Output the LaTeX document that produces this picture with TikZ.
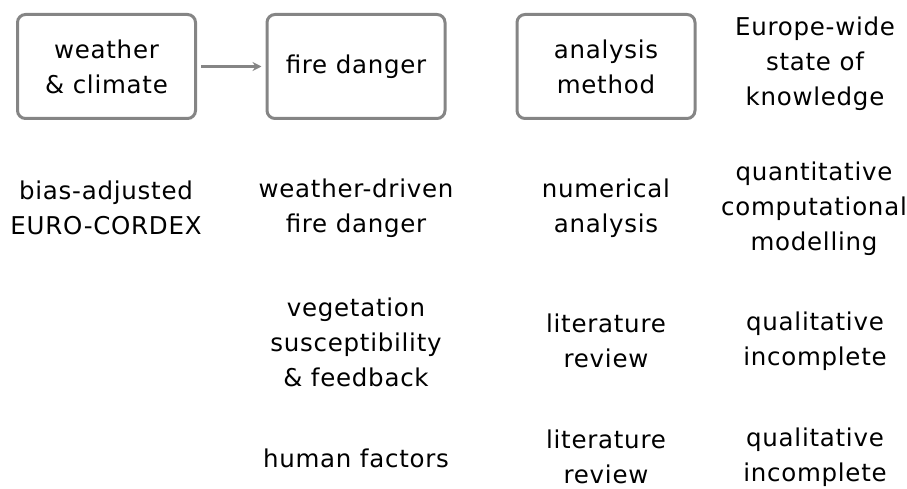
\documentclass[tikz,border=0pt]{standalone}
\usepackage{fontspec}
\setmainfont{DejaVu Sans}[LetterSpace=3]
\usetikzlibrary{arrows.meta}
\definecolor{boxgray}{HTML}{858585}

\begin{document}
\begin{tikzpicture}[x=1pt, y=-1pt,
    every node/.style={align=center, inner sep=0pt,
        font=\fontsize{24.5}{35}\selectfont},
    headbox/.style={draw=boxgray, line width=3pt, rounded corners=8pt,
        minimum width=178pt, minimum height=104pt}]

    \useasboundingbox (0,0) rectangle (907,489);

    % Header boxes
    \node[headbox] (weather) at (106.5, 66.5) {weather\\\& climate};
    \node[headbox] (danger) at (356, 66.5) {fire danger};
    \node[headbox] (method) at (606, 66.5) {analysis\\method};
    \node (knowledge) at (815, 64) {Europe-wide\\state of\\knowledge};

    % Row: weather-driven
    \node (cordex) at (106, 208) {bias-adjusted\\EURO-CORDEX};
    \node (weatherdriven) at (356, 208) {weather-driven\\fire danger};
    \node (numerical) at (606, 208) {numerical\\analysis};
    \node (quantitative) at (814, 209) {quantitative\\computational\\modelling};

    % Row: vegetation
    \node (vegetation) at (356, 342) {vegetation\\susceptibility\\\& feedback};
    \node (litveg) at (606, 341) {literature\\review};
    \node (qualveg) at (815, 341) {qualitative\\incomplete};

    % Row: human factors
    \node (human) at (356, 458) {human factors};
    \node (lithuman) at (606, 457) {literature\\review};
    \node (qualhuman) at (815, 457) {qualitative\\incomplete};

    % Arrow
    \draw[boxgray, line width=3pt, -{Stealth[length=9pt, width=9pt]},
        shorten <=4pt, shorten >=4pt] (weather) -- (danger);

\end{tikzpicture}
\end{document}
